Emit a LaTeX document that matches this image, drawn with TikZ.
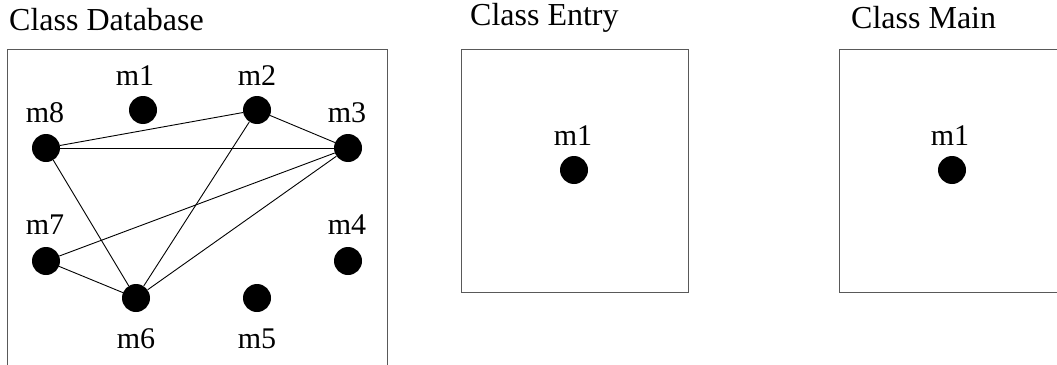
\documentclass[tikz,border=0pt]{standalone}
\usepackage{fontspec}
\setmainfont{Liberation Serif}
\begin{document}
\begin{tikzpicture}[x=1pt,y=-1pt,
  method/.style={circle,fill=black,inner sep=0pt,minimum size=28pt},
  lbl/.style={font=\fontsize{30}{34}\selectfont,inner sep=0pt},
  ttl/.style={font=\fontsize{32}{37}\selectfont,inner sep=0pt,anchor=west},
  classbox/.style={draw=black!65,line width=1pt},
  call/.style={draw=black,line width=0.9pt}]
\useasboundingbox (0,0) rectangle (1057,364);
\clip (0,0) rectangle (1057,364);

% class titles
\node[ttl] (tdb) at (9,20) {Class Database};
\node[ttl] (ten) at (470,18) {Class Entry};
\node[ttl] (tma) at (851,18) {Class Main};

% class boxes
\draw[classbox] (7.5,49) rectangle (387,400);
\draw[classbox] (461,49) rectangle (688,292);
\draw[classbox] (839,49) rectangle (1080,292);

% methods of Database
\node[method] (m1) at (143,110) {};
\node[method] (m2) at (257,110) {};
\node[method] (m3) at (348,148) {};
\node[method] (m4) at (348,261) {};
\node[method] (m5) at (257,298) {};
\node[method] (m6) at (136,298) {};
\node[method] (m7) at (46,261) {};
\node[method] (m8) at (46,148) {};

\node[lbl] (l1) at (135,76) {m1};
\node[lbl] (l2) at (257,76) {m2};
\node[lbl] (l3) at (347,113) {m3};
\node[lbl] (l4) at (347,225) {m4};
\node[lbl] (l5) at (257,339) {m5};
\node[lbl] (l6) at (136,339) {m6};
\node[lbl] (l7) at (45,225) {m7};
\node[lbl] (l8) at (45,113) {m8};

% calls between methods
\draw[call] (m8) -- (m2);
\draw[call] (m8) -- (m3);
\draw[call] (m8) -- (m6);
\draw[call] (m2) -- (m3);
\draw[call] (m2) -- (m6);
\draw[call] (m3) -- (m7);
\draw[call] (m3) -- (m6);
\draw[call] (m7) -- (m6);

% methods of Entry and Main
\node[method] (e1) at (574,170) {};
\node[lbl] (le1) at (573,136) {m1};
\node[method] (n1) at (952,170) {};
\node[lbl] (ln1) at (950,136) {m1};
\end{tikzpicture}
\end{document}
